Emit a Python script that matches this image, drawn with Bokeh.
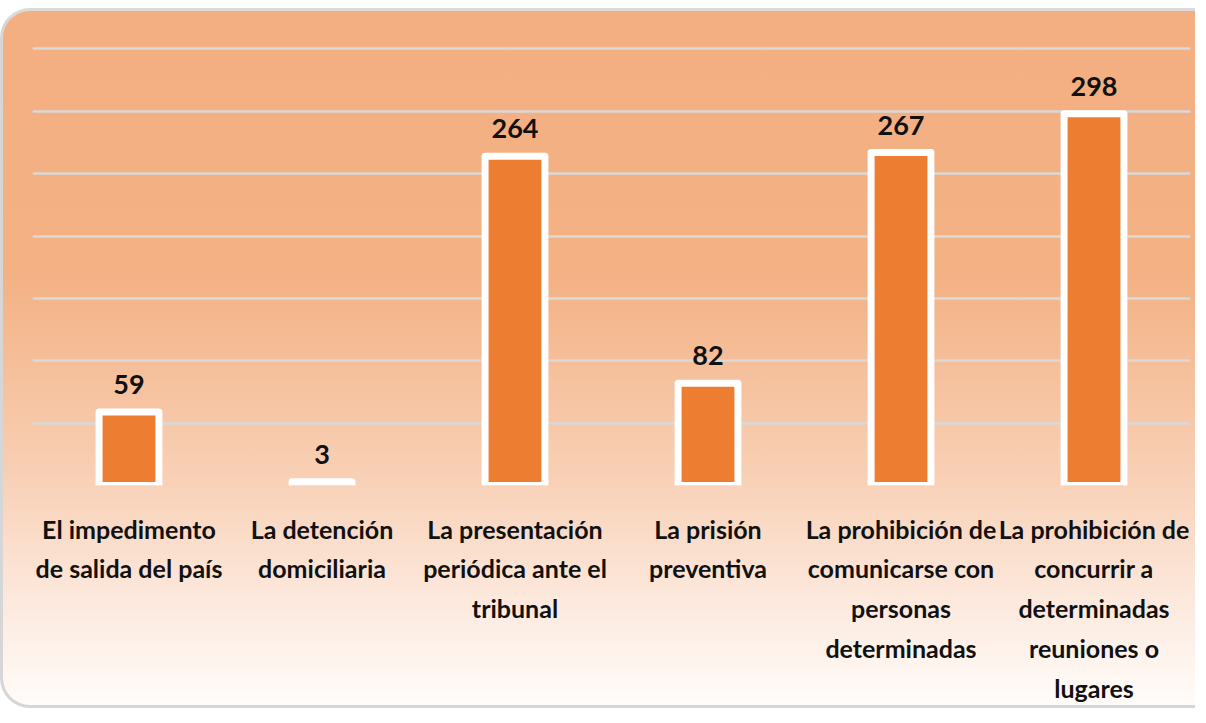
from bokeh.plotting import figure
from bokeh.models import ColumnDataSource, LabelSet, FactorRange
from bokeh.core.properties import value
from bokeh.embed import file_html
from bokeh.resources import INLINE

categories = [
    "El impedimento\nde salida del país",
    "La detención\ndomiciliaria",
    "La presentación\nperiódica ante el\ntribunal",
    "La prisión\npreventiva",
    "La prohibición de\ncomunicarse con\npersonas\ndeterminadas",
    "La prohibición de\nconcurrir a\ndeterminadas\nreuniones o\nlugares",
]
values = [59, 3, 264, 82, 267, 298]
value_labels = [str(v) for v in values]
grid_ticks = [0, 50, 100, 150, 200, 250, 300, 350]

FONT = "Lato"

src = ColumnDataSource(dict(cat=categories, val=values, lab=value_labels))

p = figure(
    x_range=FactorRange(*categories), y_range=(0, 352),
    width=1195, height=700, margin=(8, 0, 0, 0),
    output_backend="svg", toolbar_location=None,
    min_border_left=29, min_border_right=8, min_border_top=35, min_border_bottom=226,
)
p.styles = {
    "background": "linear-gradient(to bottom, #F3AF82 0%, #F3B184 38%, #F6C3A1 55%, #F8D0B5 67%, #FCE6D9 83%, #FFFCFA 100%)",
    "border-left": "3px solid #D6D6D6",
    "border-top": "3px solid #DADADA",
    "border-bottom": "3px solid #D6D6D6",
    "border-top-left-radius": "30px",
    "border-bottom-left-radius": "30px",
    "box-sizing": "border-box",
}
p.background_fill_color = None
p.border_fill_color = None
p.outline_line_color = None

p.vbar(x="cat", top="val", width=0.31, source=src,
       fill_color="#ED7D31", line_color="white", line_width=7, line_join="round")

labels = LabelSet(x="cat", y="val", text="lab", source=src,
                  text_align="center", text_baseline="bottom", y_offset=18,
                  text_font=value(FONT), text_font_style="bold", text_font_size="27px",
                  text_color="#111111")
p.add_layout(labels)

p.ygrid.grid_line_color = "#D9D9D9"
p.ygrid.grid_line_width = 2.5
p.ygrid.ticker = grid_ticks
p.xgrid.grid_line_color = None

p.yaxis.visible = False
p.xaxis.axis_line_color = None
p.xaxis.major_tick_line_color = None
p.xaxis.minor_tick_line_color = None
p.xaxis.major_label_standoff = 22
p.xaxis.major_label_text_font = FONT
p.xaxis.major_label_text_font_style = "bold"
p.xaxis.major_label_text_font_size = "25px"
p.xaxis.major_label_text_color = "#111111"
p.xaxis.major_label_text_line_height = 1.33
p.xaxis.major_label_orientation = "horizontal"

open("out.html", "w").write(file_html(p, INLINE))
